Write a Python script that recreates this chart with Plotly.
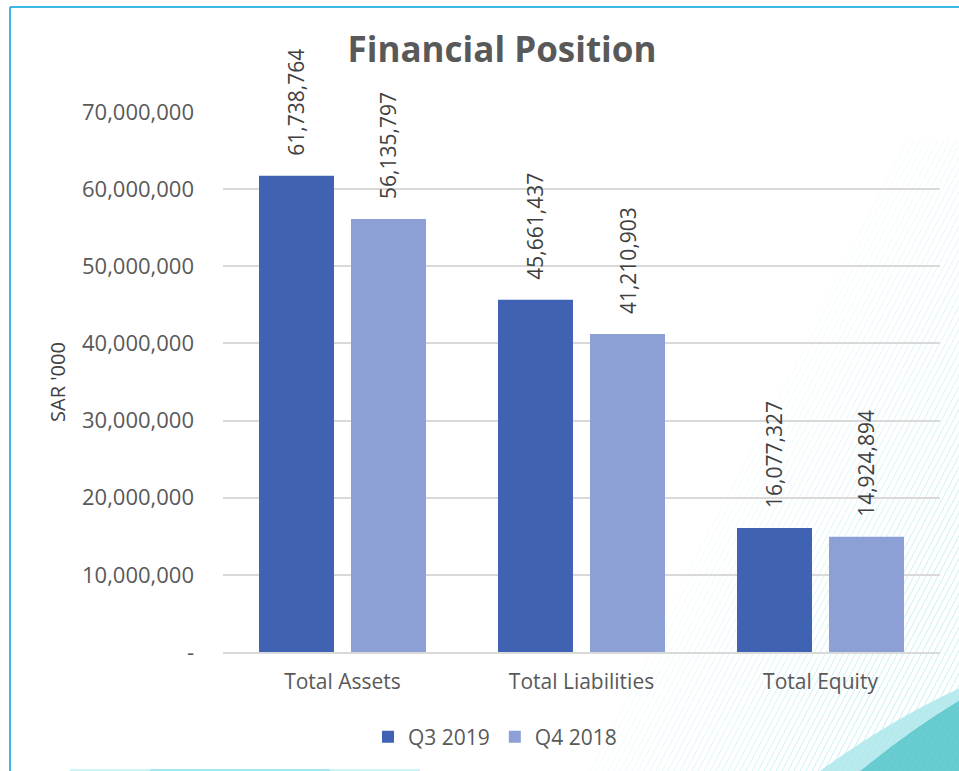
import plotly.graph_objects as go

categories = ["Total Assets", "Total Liabilities", "Total Equity"]
q3_2019 = [61738764, 45661437, 16077327]
q4_2018 = [56135797, 41210903, 14924894]
series_names = ["Q3 2019", "Q4 2018"]
tick_vals = [0, 10000000, 20000000, 30000000, 40000000, 50000000, 60000000, 70000000]
tick_text = ["-", "10,000,000", "20,000,000", "30,000,000", "40,000,000",
             "50,000,000", "60,000,000", "70,000,000"]

W, H = 959, 771
L, R, T, B = 223, 19, 112, 119
PW, PH = W - L - R, H - T - B
FONT = "Open Sans, Liberation Sans"

def px(x):
    return (x - L) / PW

def py(y):
    return (H - B - y) / PH

fig = go.Figure()
colors = ["#3F63B2", "#8DA0D5"]
for name, vals, col in zip(series_names, [q3_2019, q4_2018], colors):
    fig.add_trace(go.Bar(
        x=categories, y=vals, name=name, cliponaxis=False,
        marker=dict(color=col, line=dict(width=0)),
    ))

# data labels as rotated annotations
for i, vals in enumerate([q3_2019, q4_2018]):
    shift = -46 if i == 0 else 46
    for c, v in zip(categories, vals):
        fig.add_annotation(
            x=c, y=v, xref="x", yref="y", text=f"{v:,}", showarrow=False,
            textangle=-90, xshift=shift, yshift=18, yanchor="bottom",
            font=dict(family=FONT, size=21, color="#404040"),
        )

shapes = []
# decorative background: faint cyan stripes at right
for k in range(70):
    x0 = 560 + k * 6
    shapes.append(dict(type="line", xref="paper", yref="paper",
                       x0=px(x0), y0=py(771), x1=px(x0 + 330), y1=py(140),
                       line=dict(color="rgba(165,228,238,%.2f)" % min(0.6, 0.08 + k * 0.012), width=1),
                       layer="below"))
# white fade over stripes toward left/top
shapes.append(dict(type="path", xref="paper", yref="paper",
                   path=f"M {px(500)} {py(0)} L {px(960)} {py(0)} L {px(960)} {py(40)} "
                        f"Q {px(820)} {py(300)} {px(590)} {py(771)} L {px(500)} {py(771)} Z",
                   fillcolor="white", line=dict(width=0), layer="below"))
# teal arc bottom right
shapes.append(dict(type="path", xref="paper", yref="paper",
                   path=f"M {px(860)} {py(771)} Q {px(910)} {py(730)} {px(960)} {py(700)} "
                        f"L {px(960)} {py(771)} Z",
                   fillcolor="#4FC3C8", line=dict(width=0), layer="below", opacity=0.85))
shapes.append(dict(type="path", xref="paper", yref="paper",
                   path=f"M {px(820)} {py(771)} Q {px(890)} {py(720)} {px(960)} {py(688)} "
                        f"L {px(960)} {py(700)} Q {px(910)} {py(730)} {px(860)} {py(771)} Z",
                   fillcolor="#A8E6EA", line=dict(width=0), layer="below", opacity=0.8))
# bottom faint cyan glow
shapes.append(dict(type="line", xref="paper", yref="paper",
                   x0=px(70), y0=py(770), x1=px(420), y1=py(770),
                   line=dict(color="rgba(110,220,230,0.35)", width=2), layer="below"))
shapes.append(dict(type="line", xref="paper", yref="paper",
                   x0=px(150), y0=py(770), x1=px(330), y1=py(770),
                   line=dict(color="rgba(110,220,230,0.45)", width=2), layer="below"))
# border
shapes.append(dict(type="line", xref="paper", yref="paper",
                   x0=px(10), y0=py(7), x1=px(960), y1=py(7),
                   line=dict(color="#3DB6E6", width=2)))
shapes.append(dict(type="line", xref="paper", yref="paper",
                   x0=px(10), y0=py(7), x1=px(10), y1=py(771),
                   line=dict(color="#3DB6E6", width=2)))

fig.update_layout(
    width=W, height=H,
    margin=dict(l=L, r=R, t=T, b=B, autoexpand=False),
    paper_bgcolor="white", plot_bgcolor="rgba(0,0,0,0)",
    barmode="group", bargap=0.23, bargroupgap=0.185,
    title=dict(text="<b>Financial Position</b>", x=502 / W, xanchor="center",
               y=1 - 50 / H, yanchor="middle",
               font=dict(family=FONT, size=35, color="#595959")),
    font=dict(family=FONT, color="#595959"),
    legend=dict(orientation="h", x=px(495), xanchor="center", y=py(737), yanchor="middle",
                font=dict(size=21, color="#595959"), itemsizing="constant",
                bgcolor="rgba(0,0,0,0)", traceorder="normal", itemwidth=30),
    shapes=shapes,
    showlegend=True,
)
fig.update_xaxes(showgrid=False, showline=True, linecolor="#D9D9D9", linewidth=2,
                 tickfont=dict(size=21, color="#595959"), ticks="", ticklabelstandoff=10)
fig.update_yaxes(range=[0, 70000000], tickvals=tick_vals, ticktext=tick_text,
                 showgrid=True, gridcolor="#D9D9D9", gridwidth=1.5, zeroline=False,
                 tickfont=dict(size=22, color="#595959"), ticklabelstandoff=28,
                 title=dict(text="SAR '000", font=dict(family=FONT, size=20, color="#404040"),
                            standoff=10))

fig.write_html("out.html", config={"displayModeBar": False},
               post_script="document.body.style.margin='0';document.body.style.overflow='hidden';")
